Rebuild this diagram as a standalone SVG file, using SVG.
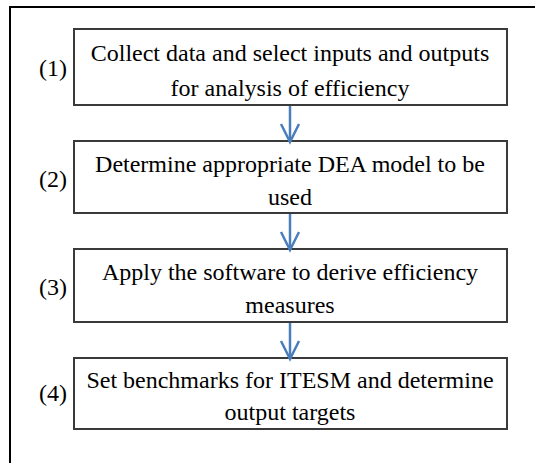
<svg xmlns="http://www.w3.org/2000/svg" width="535" height="463" viewBox="0 0 535 463">
  <style>
    .frame { fill: none; stroke: #000; stroke-width: 2; }
    .box { fill: #fff; stroke: #3a3a3a; stroke-width: 2; }
    text { font-family: 'Liberation Serif', 'Times New Roman', Times, 'DejaVu Serif', serif; font-size: 24px; fill: #000; text-anchor: middle; }
    .conn { fill: none; stroke: #4a7ebb; stroke-width: 2.5; }
  </style>
  <defs>
    <!-- open V arrowhead, drawn along +x so orient="auto" turns it down the line -->
    <marker id="arrow" markerUnits="userSpaceOnUse" markerWidth="24" markerHeight="24" refX="20" refY="12" orient="auto" viewBox="0 0 24 24">
      <path d="M2 3 L20 12 L2 21" fill="none" stroke="#4a7ebb" stroke-width="2.5"/>
    </marker>
  </defs>
  <rect width="535" height="463" fill="#fff"/>

  <!-- open frame: top and left edges only -->
  <path class="frame" d="M535 7 H10 V463"/>

  <g id="step1">
    <rect class="box" x="74" y="29" width="433" height="76"/>
    <text x="53" y="76">(1)</text>
    <text x="290" y="61">Collect data and select inputs and outputs</text>
    <text x="290" y="96">for analysis of efficiency</text>
  </g>

  <g id="step2">
    <rect class="box" x="74" y="141" width="433" height="72"/>
    <text x="53" y="187">(2)</text>
    <text x="290" y="172">Determine appropriate DEA model to be</text>
    <text x="290" y="205">used</text>
  </g>

  <g id="step3">
    <rect class="box" x="74" y="249" width="433" height="73"/>
    <text x="53" y="295">(3)</text>
    <text x="290" y="280">Apply the software to derive efficiency</text>
    <text x="290" y="313">measures</text>
  </g>

  <g id="step4">
    <rect class="box" x="74" y="358" width="433" height="71"/>
    <text x="53" y="401">(4)</text>
    <text x="290" y="388">Set benchmarks for ITESM and determine</text>
    <text x="290" y="420">output targets</text>
  </g>

  <g id="connectors">
    <line class="conn" x1="290" y1="106" x2="290" y2="142" marker-end="url(#arrow)"/>
    <line class="conn" x1="290" y1="214" x2="290" y2="250" marker-end="url(#arrow)"/>
    <line class="conn" x1="290" y1="323" x2="290" y2="359" marker-end="url(#arrow)"/>
  </g>
</svg>
